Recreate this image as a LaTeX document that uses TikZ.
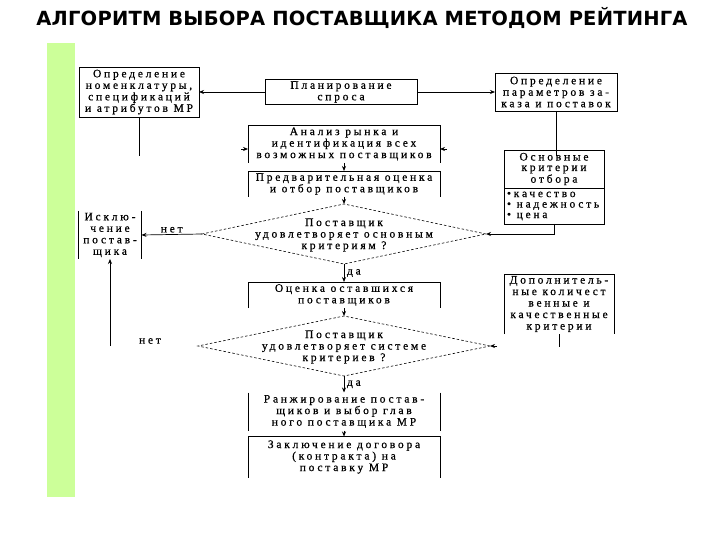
\documentclass[tikz,border=0pt]{standalone}
\usepackage{fontspec}
\setmainfont{Liberation Serif}
\newfontfamily\bodyfont{Liberation Serif}[LetterSpace=24, FakeBold=0.6]
\newfontfamily\titlefont{DejaVu Sans}[LetterSpace=1]
\usetikzlibrary{arrows.meta,calc,shapes.geometric}
\definecolor{barGreen}{HTML}{CCFF99}
\begin{document}
\begin{tikzpicture}[x=1pt,y=-1pt,
  every node/.style={inner sep=0pt, outer sep=0pt},
  txt/.style={font=\fontsize{11.5}{11.5}\selectfont\bodyfont, align=center},
  fr/.style={txt, draw, line width=0.7pt},
  op/.style={txt},
  edge/.style={line width=0.7pt},
  arr/.style={edge, -{Stealth[length=5pt,width=4pt]}},
  dia/.style={diamond, draw, dash pattern=on 2.5pt off 2pt, line width=0.6pt, inner sep=0pt},
  lbl/.style={font=\fontsize{11.5}{11.5}\selectfont\bodyfont}]
\useasboundingbox (0,0) rectangle (720,540);
\fill[white] (0,0) rectangle (720,540);
\fill[barGreen] (47,43) rectangle (75,497);
\node[font=\titlefont\bfseries\fontsize{19.5}{22}\selectfont] (title) at (362,18) {АЛГОРИТМ ВЫБОРА ПОСТАВЩИКА МЕТОДОМ РЕЙТИНГА};
% top row
\node[fr, minimum width=120pt, minimum height=50pt] (spec) at (139,92) {Определение\\номенклатуры,\\спецификаций\\и атрибутов МР};
\node[fr, minimum width=152pt, minimum height=25pt] (plan) at (341,92) {Планирование\\спроса};
\node[fr, minimum width=122pt, minimum height=38pt] (param) at (556,92) {Определение\\параметров за-\\каза и поставок};
% main column
\node[op, minimum width=192pt, minimum height=38pt] (anal) at (344,144) {Анализ рынка и\\идентификация всех\\возможных поставщиков};
\node[op, minimum width=192pt, minimum height=26pt] (pred) at (344,184) {Предварительная оценка\\и отбор поставщиков};
\node[dia, minimum width=284pt, minimum height=60pt] (d1) at (344,234) {};
\node[txt] (d1t) at (344,235) {Поставщик\\удовлетворяет основным\\критериям ?};
\node[op, minimum width=63pt, minimum height=48pt] (excl) at (110,235) {Исклю-\\чение\\постав-\\щика};
\node[fr, minimum width=100pt, minimum height=74pt] (osn) at (554,187) {};
\coordinate (osndiv) at (0,188);
\draw[edge] (osn.west |- osndiv) -- (osn.east |- osndiv);
\node[txt, font=\fontsize{11.5}{10.5}\selectfont\bodyfont] (osnt) at (554,169) {Основные\\критерии\\отбора};
\node[txt, align=left, anchor=west, font=\fontsize{11.5}{10.5}\selectfont\bodyfont] (osnl) at (507,206) {•качество\\• надежность\\• цена};
\node[op, minimum width=192pt, minimum height=26pt] (ocen) at (344,295) {Оценка оставшихся\\поставщиков};
\node[dia, minimum width=292pt, minimum height=60pt] (d2) at (344,346) {};
\node[txt] (d2t) at (344,347) {Поставщик\\удовлетворяет системе\\критериев ?};
\node[op, minimum width=110pt, minimum height=60pt] (dop) at (559,304) {Дополнитель-\\ные количест\\венные и\\качественные\\критерии};
\node[op, minimum width=192pt, minimum height=38pt] (ranzh) at (344,411.5) {Ранжирование постав-\\щиков и выбор глав\\ного поставщика МР};
\node[op, minimum width=192pt, minimum height=41pt] (zakl) at (344,457) {Заключение договора\\(контракта) на\\поставку МР};
% open box edges
\foreach \n in {anal,pred,ocen,zakl,dop}
  \draw[edge] (\n.south west) |- (\n.north east) -- (\n.south east);
\foreach \n in {ranzh,excl}
  \draw[edge] (\n.north west) -- (\n.south west) (\n.north east) -- (\n.south east);
% connectors
\draw[arr] (plan.west) -- (spec.east);
\draw[arr] (plan.east) -- (param.west);
\draw[edge] (spec.south) -- ++(0,39);
\draw[arr] ($(anal.west)+(-7,5)$) -- ($(anal.west)+(0,5)$);
\draw[edge] (param.south) -- ++(0,45);
\draw[arr] ($(anal.east)+(7,5)$) -- ($(anal.east)+(0,5)$);
\draw[arr] (anal.south) -- (pred.north);
\draw[arr] (pred.south) -- (d1.north);
\draw[arr] (osn.south) |- (d1.east);
\draw[arr] (d1.west) -- node[lbl, above=2pt] {нет} (excl.east);
\draw[arr] (d1.south) -- node[lbl, right=3pt] {да} (ocen.north);
\draw[arr] (ocen.south) -- (d2.north);
\draw[edge] (dop.south) -- ++(0,13);
\draw[arr] ($(d2.east)+(7,0)$) -- (d2.east);
\coordinate (back) at (110,346);
\draw[arr] (back) -- (excl.south);
\node[lbl] (net2) at (150,341) {нет};
\draw[arr] (d2.south) -- node[lbl, right=3pt] {да} (ranzh.north);
\draw[arr] (ranzh.south) -- (zakl.north);
\end{tikzpicture}
\end{document}
